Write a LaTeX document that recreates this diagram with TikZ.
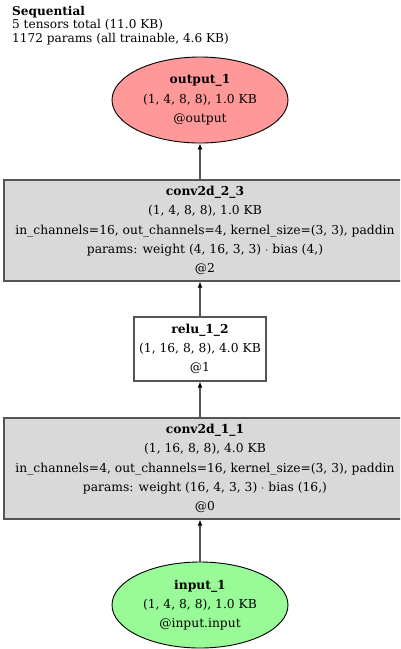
\documentclass[tikz,border=0pt]{standalone}
\usepackage{fontspec}
\setmainfont{DejaVu Serif}
\usetikzlibrary{arrows.meta,shapes.geometric}
\definecolor{outred}{HTML}{FF9999}
\definecolor{ingreen}{HTML}{98FB98}
\definecolor{convgray}{HTML}{D9D9D9}
\definecolor{edgegray}{HTML}{555555}
\begin{document}
\begin{tikzpicture}[x=1pt,y=-1pt,
  lbl/.style={font=\fontsize{12.3}{19.3}\selectfont, align=center, inner sep=0pt},
  endnode/.style={lbl, ellipse, draw=black, line width=0.9pt, minimum width=176pt, minimum height=86pt},
  convbox/.style={lbl, rectangle, draw=edgegray, line width=1.2pt, fill=convgray, minimum width=402pt, minimum height=101pt},
  plainbox/.style={lbl, rectangle, draw=edgegray, line width=1.2pt, fill=white, minimum width=132pt, minimum height=64pt},
  edge/.style={draw=edgegray, line width=1.1pt, -{Latex[length=6pt,width=5pt,black]}}]
\clip (0,0) rectangle (400,649);
\fill[white] (0,0) rectangle (400,649);

\node[anchor=north west, align=left, inner sep=0pt, font=\fontsize{12.1}{13.4}\selectfont] (title) at (12,6)
  {\textbf{Sequential}\\5 tensors total (11.0 KB)\\1172 params (all trainable, 4.6 KB)};

\node[endnode, fill=outred] (out) at (200,100)
  {\textbf{output\_1}\\(1, 4, 8, 8), 1.0 KB\\@output};

\node[convbox] (c2) at (205,230.5)
  {\textbf{conv2d\_2\_3}\\(1, 4, 8, 8), 1.0 KB\\in\_channels=16, out\_channels=4, kernel\_size=(3, 3), paddin\hspace*{2pt}\\params: weight (4, 16, 3, 3) $\cdot$ bias (4,)\\@2};

\node[plainbox] (relu) at (200,349)
  {\textbf{relu\_1\_2}\\(1, 16, 8, 8), 4.0 KB\\@1};

\node[convbox] (c1) at (205,468.5)
  {\textbf{conv2d\_1\_1}\\(1, 16, 8, 8), 4.0 KB\\in\_channels=4, out\_channels=16, kernel\_size=(3, 3), paddin\hspace*{2pt}\\params: weight (16, 4, 3, 3) $\cdot$ bias (16,)\\@0};

\node[endnode, fill=ingreen] (inp) at (200,605)
  {\textbf{input\_1}\\(1, 4, 8, 8), 1.0 KB\\@input.input};

\draw[edge] (inp.north) -- (inp.north |- c1.south);
\draw[edge] (c1.north -| relu.south) -- (relu.south);
\draw[edge] (relu.north) -- (relu.north |- c2.south);
\draw[edge] (c2.north -| out.south) -- (out.south);
\end{tikzpicture}
\end{document}
